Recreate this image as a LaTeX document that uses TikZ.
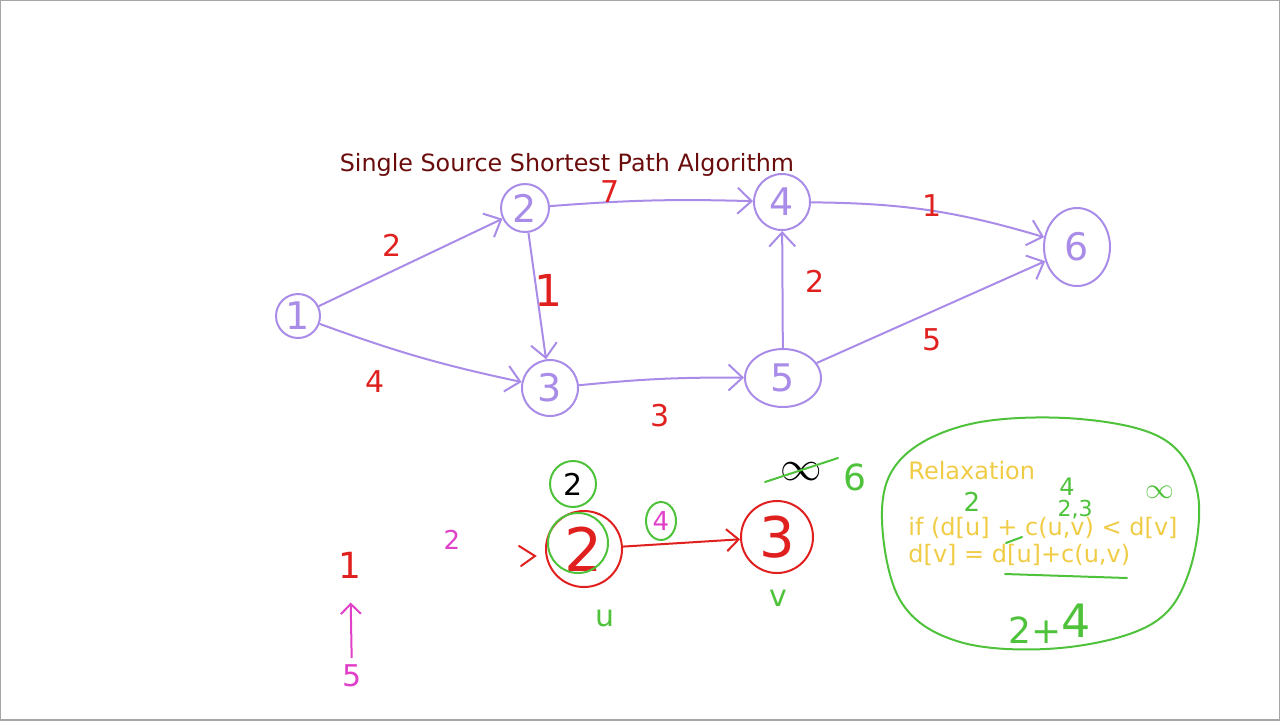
\documentclass[tikz,border=0pt]{standalone}
\usepackage{fontspec}
\setmainfont{DejaVu Sans}
\usetikzlibrary{arrows.meta,positioning,shapes.geometric}
\definecolor{gline}{HTML}{A98CE8}
\definecolor{wred}{HTML}{E0201E}
\definecolor{wgrn}{HTML}{4EC23A}
\definecolor{wyel}{HTML}{F0CC46}
\definecolor{wmag}{HTML}{E040C8}
\definecolor{wttl}{HTML}{6A0C0C}
\newcommand{\fs}[1]{\fontsize{#1}{#1}\selectfont}
\tikzset{
  vtx/.style={draw=gline,line width=1pt,circle,text=gline,inner sep=0pt,font=\fs{19}},
  edg/.style={draw=gline,line width=1pt,-{Straight Barb[length=7pt,width=13pt,line width=1pt]}},
  wt/.style={text=wred,inner sep=0pt,font=\fs{15}},
  ring/.style={draw=#1,line width=1pt,circle,inner sep=0pt},
  ring/.default={wred},
  pen/.style={draw=#1,line width=1pt,line cap=round},
  pen/.default={wgrn},
  rarr/.style={draw=wred,line width=1pt,-{Straight Barb[length=6pt,width=11pt,line width=1pt]}},
  marr/.style={draw=wmag,line width=1pt,-{Straight Barb[length=5pt,width=10pt,line width=1pt]}},
  ytxt/.style={text=wyel,anchor=west,inner sep=0pt,font=\fs{12}},
  gtxt/.style={text=wgrn,inner sep=0pt,font=\fs{13}},
}
\begin{document}
\begin{tikzpicture}[x=0.5pt,y=-0.5pt]
 \useasboundingbox (0,0) rectangle (1280,720);
 \draw[gray!70,line width=0.6pt] (0,0) rectangle (1280,720);
 \node[text=wttl,font=\fs{11.9}] (ttl) at (567,165) {Single Source Shortest Path Algorithm};
 % graph
 \node[vtx,minimum size=22pt] (n1) at (298,316) {1};
 \node[vtx,minimum size=24pt] (n2) at (525,208) {2};
 \node[vtx,minimum size=28pt] (n3) at (550,388) {3};
 \node[vtx,minimum size=28pt] (n4) at (782,202) {4};
 \node[vtx,ellipse,minimum width=38pt,minimum height=29pt] (n5) at (783,378) {5};
 \node[vtx,ellipse,minimum width=33pt,minimum height=39pt] (n6) at (1077,247) {6};
 \draw[edg] (n1) -- (n2); \draw[edg] (n1) to[bend right=4] (n3); \draw[edg] (n2) -- (n3);
 \draw[edg] (n2) to[bend left=3] (n4); \draw[edg] (n3) to[bend left=3] (n5); \draw[edg] (n5) -- (n4);
 \draw[edg] (n4) to[bend left=8] (n6); \draw[edg] (n5) -- (n6);
 \node[wt] (w12) at (392,245) {2}; \node[wt] (w13) at (375,382) {4}; \node[wt,font=\fs{22}] (w23) at (548,290) {1};
 \node[wt] (w24) at (610,192) {7}; \node[wt] (w35) at (660,416) {3}; \node[wt] (w54) at (815,281) {2};
 \node[wt] (w46) at (932,206) {1}; \node[wt] (w56) at (932,340) {5};
 % relaxation example
 \node[wt,font=\fs{18}] (src) at (350,565) {1}; \node[text=wmag,font=\fs{15}] (five) at (352,676) {5};
 \draw[marr,shorten >=12pt] (five) -- (src);
 \node[text=wmag,font=\fs{13}] (in2) at (452,540) {2};
 \draw[pen=wred] (519,546) -- (535,556) -- (521,566);
 \node[ring,minimum size=38pt,text=wred,font=\fs{30}] (u) at (584,549) {2};
 \node[ring=wgrn,minimum size=30pt] (ug) at (578,543) {};
 \node[ring=wgrn,minimum size=23pt,font=\fs{15}] (du) at (573,484) {2};
 \node[gtxt,font=\fs{15}] (ul) at (605,618) {u};
 \node[ring=wgrn,ellipse,minimum width=15pt,minimum height=19pt,text=wmag,font=\fs{13}] (cuv) at (661,521) {4};
 \node[ring,minimum size=36pt,text=wred,font=\fs{28}] (v) at (777,537) {3};
 \draw[rarr] (u) -- (v);
 \node[gtxt,font=\fs{15}] (vl) at (778,598) {v};
 \node[font=\fs{20}] (inf) at (801,472) {$\infty$};
 \draw[pen] ([shift={(-36,10)}]inf.center) -- ([shift={(37,-14)}]inf.center);
 \node[gtxt,font=\fs{18}] (dv) at (855,477) {6};
 % note
 \draw[pen] plot[smooth cycle,tension=0.6] coordinates {(1080,419) (1165,440) (1198,495) (1188,575) (1150,625) (1060,648) (960,642) (900,600) (882,510) (905,455) (975,423)};
 \node[ytxt] (rlx) at (908,471) {Relaxation};
 \node[ytxt] (cond) at (908,528) {if (d[u] + c(u,v) < d[v]};
 \node[ytxt] (upd) at (908,555) {d[v] = d[u]+c(u,v)};
 \node[gtxt] (a2) at (972,502) {2}; \node[gtxt,font=\fs{12}] (a4) at (1067,487) {4};
 \node[gtxt,font=\fs{11}] (a23) at (1075,510) {2,3}; \node[gtxt,font=\fs{14}] (ainf) at (1160,492) {$\infty$};
 \draw[pen] (1006,543) -- (1022,537); \draw[pen] (1005,574) -- (1127,578);
 \node[gtxt,font=\fs{18}] (sum) at (1050,624) {2+\raisebox{3pt}{\fs{23}4}};
\end{tikzpicture}
\end{document}
